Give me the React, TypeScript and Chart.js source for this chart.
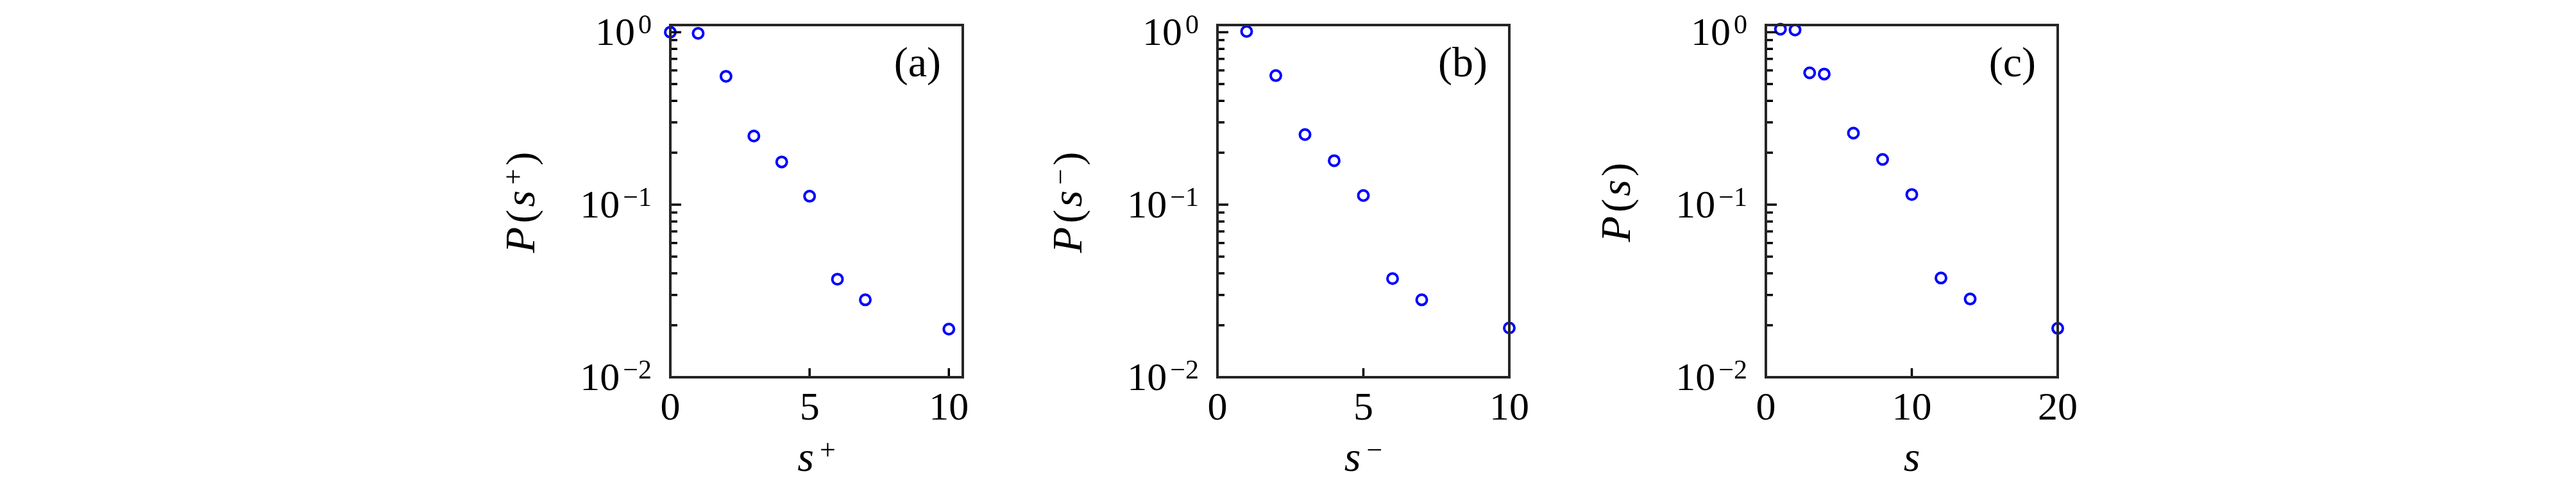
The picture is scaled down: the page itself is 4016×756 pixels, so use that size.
import React, { useEffect, useRef } from 'react';
import { Chart, registerables } from 'chart.js';

Chart.register(...registerables);

// ---------- data ----------
// Panel (a): P(s+)
const sPlusValues = [0, 1, 2, 3, 4, 5, 6, 7, 10];
const pSPlusValues = [1.0, 0.984, 0.555, 0.25, 0.177, 0.112, 0.037, 0.0281, 0.019];
// Panel (b): P(s-)
const sMinusValues = [1, 2, 3, 4, 5, 6, 7, 10];
const pSMinusValues = [1.01, 0.56, 0.255, 0.18, 0.113, 0.0373, 0.0281, 0.0193];
// Panel (c): P(s)
const sValues = [1, 2, 3, 4, 6, 8, 10, 12, 14, 20];
const pSValues = [1.04, 1.03, 0.581, 0.572, 0.26, 0.183, 0.1146, 0.0376, 0.0284, 0.0192];

// ---------- ticks & labels ----------
const xTicksA = [0, 5, 10];
const xTicksB = [0, 5, 10];
const xTicksC = [0, 10, 20];
const xMaxA = 10.5;
const xMaxB = 10;
const xMaxC = 20;
const yMin = 0.01;
const yMax = 1.1;
const yMajorTicks = [1, 0.1, 0.01];
const yMajorExponents = ['0', '\u22121', '\u22122'];
const yMinorMantissas = [2, 3, 4, 5, 6, 7, 8, 9];
const yDecades = [-2, -1, 0];
const panelLabels = ['(a)', '(b)', '(c)'];
const titleSuperscripts = ['+', '\u2212', ''];

// ---------- layout (page px) ----------
const PAGE_MARGIN = 8;
const PAD_L = 300;
const PAD_R = 100;
const PAD_T = 31;
const PAD_B = 160;
const CANVAS_H = 740;

const SERIF = '"Liberation Serif", "Times New Roman", serif';
const font = (size: number, style = 'normal') => `${style} ${size}px ${SERIF}`;

type Run = { text: string; font: string; dy?: number; gap?: number };

function runsWidth(ctx: CanvasRenderingContext2D, runs: Run[]) {
  let w = 0;
  for (const r of runs) {
    ctx.font = r.font;
    w += (r.gap || 0) + ctx.measureText(r.text).width;
  }
  return w;
}

function drawRuns(ctx: CanvasRenderingContext2D, runs: Run[], x: number, y: number) {
  let cx = x;
  for (const r of runs) {
    ctx.font = r.font;
    cx += r.gap || 0;
    ctx.fillText(r.text, cx, y + (r.dy || 0));
    cx += ctx.measureText(r.text).width;
  }
}

function makeTitleRuns(sup: string, withP: boolean): Run[] {
  const runs: Run[] = [];
  if (withP) {
    runs.push({ text: 'P', font: font(66, 'italic') });
    runs.push({ text: '(', font: font(64), gap: 6 });
  }
  runs.push({ text: 's', font: font(66, 'italic'), gap: withP ? 4 : 0 });
  if (sup) runs.push({ text: sup, font: font(44), dy: -18, gap: 9 });
  if (withP) runs.push({ text: ')', font: font(64), gap: 5 });
  return runs;
}

interface PanelSpec {
  xs: number[];
  ys: number[];
  xMax: number;
  xTicks: number[];
  label: string;
  sup: string;
  plotLeft: number;
  plotRight: number;
}

const panels: PanelSpec[] = [
  { xs: sPlusValues, ys: pSPlusValues, xMax: xMaxA, xTicks: xTicksA, label: panelLabels[0], sup: titleSuperscripts[0], plotLeft: 1045, plotRight: 1501 },
  { xs: sMinusValues, ys: pSMinusValues, xMax: xMaxB, xTicks: xTicksB, label: panelLabels[1], sup: titleSuperscripts[1], plotLeft: 1898, plotRight: 2353 },
  { xs: sValues, ys: pSValues, xMax: xMaxC, xTicks: xTicksC, label: panelLabels[2], sup: titleSuperscripts[2], plotLeft: 2753, plotRight: 3208 },
];

function Panel({ spec }: { spec: PanelSpec }) {
  const ref = useRef<HTMLCanvasElement | null>(null);
  const plotW = spec.plotRight - spec.plotLeft;
  const canvasW = PAD_L + plotW + PAD_R;

  useEffect(() => {
    if (!ref.current) return;
    const axesPlugin = {
      id: 'paperAxes',
      afterDraw(chart: any) {
        const ctx: CanvasRenderingContext2D = chart.ctx;
        const { left, right, top, bottom } = chart.chartArea;
        const xScale = chart.scales.x;
        const yScale = chart.scales.y;
        ctx.save();

        // ticks (inward)
        ctx.strokeStyle = '#000000';
        ctx.lineWidth = 3.5;
        ctx.lineCap = 'butt';
        ctx.beginPath();
        for (const v of yMajorTicks) {
          const y = yScale.getPixelForValue(v);
          ctx.moveTo(left, y);
          ctx.lineTo(left + 17, y);
        }
        for (const d of yDecades) {
          for (const m of yMinorMantissas) {
            const v = m * Math.pow(10, d);
            if (v < yMin || v > yMax) continue;
            const y = yScale.getPixelForValue(v);
            ctx.moveTo(left, y);
            ctx.lineTo(left + 11, y);
          }
        }
        for (const t of spec.xTicks) {
          const x = xScale.getPixelForValue(t);
          ctx.moveTo(x, bottom);
          ctx.lineTo(x, bottom - 14);
        }
        ctx.stroke();

        // frame
        ctx.strokeStyle = '#262626';
        ctx.lineWidth = 4;
        ctx.strokeRect(left, top, right - left, bottom - top);

        ctx.fillStyle = '#000000';
        ctx.textBaseline = 'alphabetic';
        ctx.textAlign = 'left';

        // y tick labels 10^k
        yMajorTicks.forEach((v, i) => {
          const y = yScale.getPixelForValue(v);
          ctx.font = font(42);
          const supW = ctx.measureText(yMajorExponents[i]).width;
          ctx.font = font(62);
          const baseW = ctx.measureText('10').width;
          const xEnd = left - 29;
          ctx.font = font(42);
          ctx.fillText(yMajorExponents[i], xEnd - supW, y + 2);
          ctx.font = font(62);
          ctx.fillText('10', xEnd - supW - 5 - baseW, y + 20);
        });

        // x tick labels
        ctx.textAlign = 'center';
        ctx.font = font(62);
        for (const t of spec.xTicks) {
          const x = xScale.getPixelForValue(t);
          ctx.fillText(String(t), x, bottom + 66);
        }

        // x title
        ctx.textAlign = 'left';
        const xRuns = makeTitleRuns(spec.sup, false);
        const xw = runsWidth(ctx, xRuns);
        drawRuns(ctx, xRuns, (left + right) / 2 - xw / 2, bottom + 146);

        // y title (rotated)
        const yRuns = makeTitleRuns(spec.sup, true);
        const yw = runsWidth(ctx, yRuns);
        ctx.save();
        ctx.translate(left - 212, (top + bottom) / 2 + 2);
        ctx.rotate(-Math.PI / 2);
        drawRuns(ctx, yRuns, -yw / 2, 0);
        ctx.restore();

        // panel label
        ctx.textAlign = 'right';
        ctx.font = font(66);
        ctx.fillText(spec.label, right - 34, top + 80);

        ctx.restore();
      },
    };

    const chart = new Chart(ref.current, {
      type: 'scatter',
      data: {
        datasets: [
          {
            data: spec.xs.map((x, i) => ({ x, y: spec.ys[i] })),
            pointStyle: 'circle',
            pointRadius: 8,
            pointHoverRadius: 8,
            pointBorderWidth: 4,
            pointBorderColor: '#0000ff',
            pointBackgroundColor: 'rgba(0,0,0,0)',
            borderColor: '#0000ff',
            backgroundColor: 'rgba(0,0,0,0)',
            showLine: false,
            clip: false,
          } as any,
        ],
      },
      options: {
        responsive: false,
        animation: false,
        events: [],
        layout: { padding: { left: PAD_L, right: PAD_R, top: PAD_T, bottom: PAD_B } },
        plugins: { legend: { display: false }, tooltip: { enabled: false } },
        scales: {
          x: { type: 'linear', min: 0, max: spec.xMax, display: false },
          y: { type: 'logarithmic', min: yMin, max: yMax, display: false },
        },
      },
      plugins: [axesPlugin],
    });
    return () => chart.destroy();
  }, [spec]);

  return (
    <canvas
      ref={ref}
      width={canvasW}
      height={CANVAS_H}
      style={{
        position: 'absolute',
        left: spec.plotLeft - PAGE_MARGIN - PAD_L,
        top: 0,
        width: canvasW,
        height: CANVAS_H,
      }}
    />
  );
}

export default function App() {
  return (
    <div style={{ position: 'relative', width: 4000, height: CANVAS_H, background: '#ffffff', overflow: 'hidden' }}>
      {panels.map((p, i) => (
        <Panel key={i} spec={p} />
      ))}
    </div>
  );
}
